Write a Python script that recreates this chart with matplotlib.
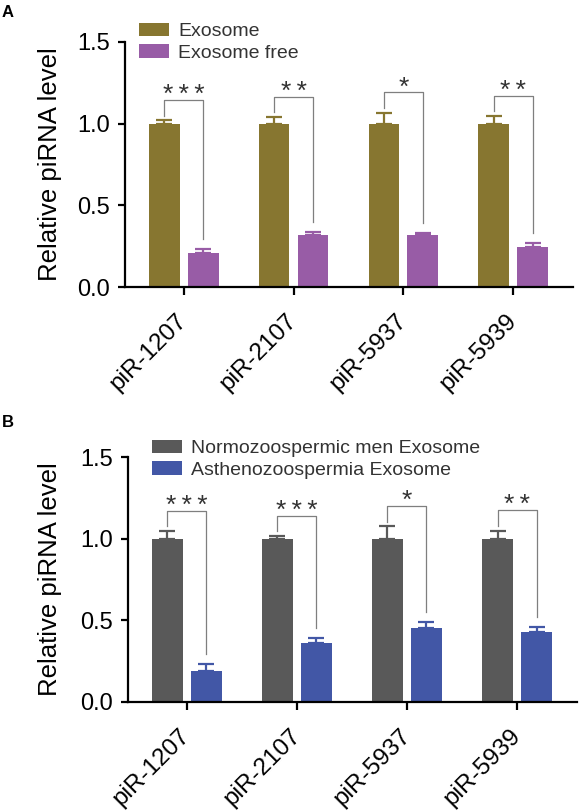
"""Relative piRNA levels in exosome fractions (panels A and B)."""

import matplotlib

matplotlib.use("Agg")

import matplotlib.pyplot as plt
import numpy as np

plt.rcParams["font.family"] = ["Liberation Sans", "DejaVu Sans"]

genes = ["piR-1207", "piR-2107", "piR-5937", "piR-5939"]

# panel A
a_labels = ["Exosome", "Exosome free"]
a_exo = [1.0, 1.0, 1.0, 1.0]
a_exo_err = [0.02, 0.04, 0.066, 0.047]
a_free = [0.209, 0.317, 0.317, 0.243]
a_free_err = [0.022, 0.019, 0.014, 0.027]
a_stars = ["***", "**", "*", "**"]

# panel B
b_labels = ["Normozoospermic men Exosome", "Asthenozoospermia Exosome"]
b_normo = [1.0, 1.0, 1.0, 1.0]
b_normo_err = [0.045, 0.016, 0.075, 0.05]
b_asth = [0.191, 0.364, 0.453, 0.431]
b_asth_err = [0.043, 0.028, 0.035, 0.029]
b_stars = ["***", "***", "*", "**"]

W, H = 579, 811


def px_rect(left, top, right, bottom):
    return [left / W, 1 - bottom / H, (right - left) / W, (bottom - top) / H]


def draw_panel(ax, v1, e1, v2, e2, stars, labels, colors, legend_xy, label_x):
    x = np.arange(len(genes))
    off, width = 0.177, 0.28
    for xs, vals, errs, col, lab in (
        (x - off, v1, e1, colors[0], labels[0]),
        (x + off, v2, e2, colors[1], labels[1]),
    ):
        ax.bar(xs, vals, width, color=col, label=lab, zorder=2)
        ax.errorbar(xs, vals, yerr=[np.zeros(len(vals)), errs], fmt="none",
                    ecolor=col, elinewidth=1.6, capsize=5.5, capthick=1.6, zorder=1)

    for i, s in enumerate(stars):
        cap1 = v1[i] + e1[i]
        cap2 = v2[i] + e2[i]
        top = cap1 + 0.125
        xl, xr = x[i] - off, x[i] + off
        ax.plot([xl, xl, xr, xr], [cap1 + 0.03, top, top, cap2 + 0.06],
                color="#7f7f7f", lw=0.9, zorder=3)
        ax.annotate("\u2009".join(s), (x[i], top), xytext=(0, -1.5),
                    textcoords="offset points", ha="center", va="baseline",
                    fontsize=19, color="#333333")

    ax.set_xlim(-0.535, 3.545)
    ax.set_ylim(0, 1.5)
    ax.set_yticks([0, 0.5, 1.0, 1.5])
    ax.set_yticklabels(["0.0", "0.5", "1.0", "1.5"])
    ax.set_xticks(x)
    ax.set_xticklabels(genes, rotation=45, ha="right", va="center",
                       rotation_mode="anchor")
    for side in ("top", "right"):
        ax.spines[side].set_visible(False)
    for side in ("left", "bottom"):
        ax.spines[side].set_linewidth(1.6)
    ax.tick_params(axis="y", length=5, width=1.6, labelsize=17, pad=6)
    ax.tick_params(axis="x", length=6, width=1.6, labelsize=17.5, pad=16)
    ax.set_ylabel("Relative piRNA level", fontsize=18.5)
    ax.yaxis.set_label_coords(label_x, 0.5)

    leg = ax.legend(loc="upper left", bbox_to_anchor=legend_xy,
                    bbox_transform=ax.figure.transFigure, frameon=False,
                    fontsize=14, handlelength=1.55, handleheight=0.68,
                    handletextpad=0.45, labelspacing=0.2, borderpad=0,
                    borderaxespad=0)
    for t in leg.get_texts():
        t.set_color("#333333")


fig = plt.figure(figsize=(W / 100, H / 100), dpi=100)

ax_a = fig.add_axes(px_rect(125, 42, 573, 287))
draw_panel(ax_a, a_exo, a_exo_err, a_free, a_free_err, a_stars, a_labels,
           ["#877630", "#985ca6"], (139 / W, 1 - 23 / H), -0.141)

ax_b = fig.add_axes(px_rect(128, 457, 577, 702))
draw_panel(ax_b, b_normo, b_normo_err, b_asth, b_asth_err, b_stars, b_labels,
           ["#595959", "#4257a6"], (152 / W, 1 - 440 / H), -0.147)

fig.text(2 / W, 1 - 5 / H, "A", fontsize=12, fontweight="bold", va="top")
fig.text(2 / W, 1 - 415 / H, "B", fontsize=12, fontweight="bold", va="top")

fig.savefig("out.png", dpi=100)
